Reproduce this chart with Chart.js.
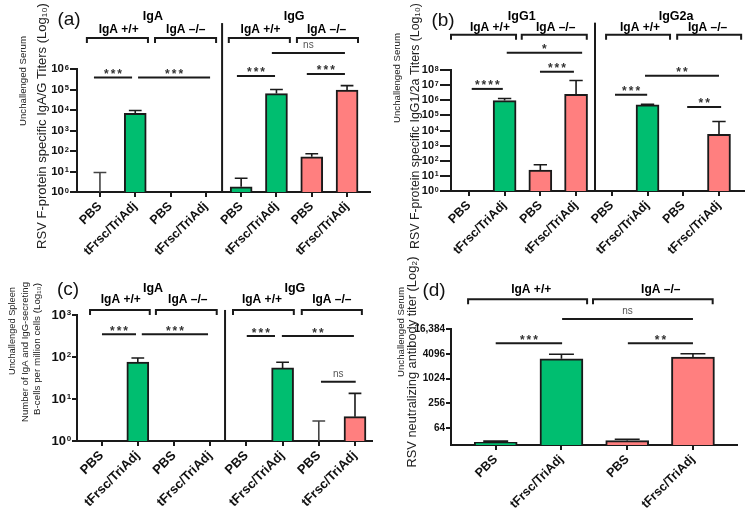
<!DOCTYPE html>
<html><head><meta charset="utf-8">
<script src="https://cdn.jsdelivr.net/npm/chart.js@4.4.1/dist/chart.umd.min.js"></script>
<style>
html,body{margin:0;padding:0;background:#fff;width:748px;height:518px;overflow:hidden}
canvas{position:absolute;display:block}
</style></head><body>
<canvas id="ca" width="374" height="255" style="left:0;top:0"></canvas>
<canvas id="cb" width="374" height="255" style="left:374px;top:0"></canvas>
<canvas id="cc" width="374" height="263" style="left:0;top:255px"></canvas>
<canvas id="cd" width="374" height="263" style="left:374px;top:255px"></canvas>
<script>
// ---------------- data ----------------
const categories = ['PBS','tFrsc/TriAdj','PBS','tFrsc/TriAdj','PBS','tFrsc/TriAdj','PBS','tFrsc/TriAdj'];
const genotypes  = ['+/+','+/+','-/-','-/-','+/+','+/+','-/-','-/-'];
// (a) serum IgA / IgG titers (mean, upper error)
const titerA    = [1, 6900, null, null, 1.8, 63000, 52, 95000];
const titerErrA = [9, 9500, null, null, 4.7, 100000, 74, 155000];
// (b) serum IgG1 / IgG2a titers
const titerB    = [null, 950000, 24, 2500000, null, 500000, null, 5600];
const titerErrB = [null, 1300000, 55, 20000000, null, 550000, null, 39000];
// (c) spleen antibody-secreting B cells per million
const cellsC    = [null, 76, null, null, null, 55, 1, 3.8];
const cellsErrC = [null, 95, null, null, null, 75, 3, 13.6];
// (d) neutralizing titers
const categoriesD = ['PBS','tFrsc/TriAdj','PBS','tFrsc/TriAdj'];
const genotypesD  = ['+/+','+/+','-/-','-/-'];
const neutD    = [29, 3100, 32, 3400];
const neutErrD = [31, 4000, 34.6, 4100];
// tick values
const ticksA = [1,10,100,1e3,1e4,1e5,1e6];
const ticksB = [1,10,100,1e3,1e4,1e5,1e6,1e7,1e8];
const ticksC = [1,10,100,1e3];
const ticksD = [64,256,1024,4096,16384];
const tickLabelsD = ['64','256','1024','4096','16,384'];

// ---------------- style ----------------
Chart.defaults.font.family = "'Liberation Sans', Arial, sans-serif";
Chart.defaults.color = '#000';
const GREEN = '#00BE70', RED = '#FF7F7F', INK = '#1a1a1a';
const FONT = "'Liberation Sans', Arial, sans-serif";
const baseLabel = v => '10';
const labelD = v => tickLabelsD[ticksD.indexOf(v)] ?? '';
const YW = 40;

function annot(P){
  return {
    id: 'annot_' + P.id,
    afterDraw(chart){
      const ctx = chart.ctx, xs = chart.scales.x, ys = chart.scales.y;
      const X = v => xs.getPixelForValue(v);
      const Y = e => ys.getPixelForValue(Math.pow(P.base, e));
      ctx.save();
      // exponents of the 10^n tick labels
      if (P.pow10){
        ctx.fillStyle = '#111'; ctx.font = 'bold ' + P.expSize + 'px ' + FONT;
        ctx.textAlign = 'left'; ctx.textBaseline = 'alphabetic';
        const x0 = ys.right - P.tickLen - P.tickPad + 0.8;
        P.yticks.forEach(v=> ctx.fillText(String(Math.round(Math.log10(v))), x0, ys.getPixelForValue(v) + P.expDy));
      }
      // error bars
      P.means.forEach((m,i)=>{
        const e = P.errs[i]; if (e == null) return;
        const x = X(i), yb = ys.getPixelForValue(m == null ? P.ymin : m), yt = ys.getPixelForValue(e);
        const hw = P.barW * 0.29;
        ctx.strokeStyle = m <= P.ymin ? '#444' : INK; ctx.lineWidth = 1.6;
        ctx.beginPath(); ctx.moveTo(x, yb); ctx.lineTo(x, yt);
        ctx.moveTo(x-hw, yt); ctx.lineTo(x+hw, yt); ctx.stroke();
      });
      ctx.strokeStyle = INK; ctx.lineWidth = 2;
      // separator
      if (P.sep){
        ctx.beginPath(); ctx.moveTo(X(P.sep.x), Y(P.sep.top)); ctx.lineTo(X(P.sep.x), ys.bottom); ctx.stroke();
      }
      // brackets
      P.brackets.forEach(b=>{
        const y = Y(P.bracketY);
        ctx.beginPath(); ctx.moveTo(X(b[0]), y+5); ctx.lineTo(X(b[0]), y); ctx.lineTo(X(b[1]), y); ctx.lineTo(X(b[1]), y+5); ctx.stroke();
      });
      // significance lines
      ctx.textAlign = 'center';
      P.sig.forEach(s=>{
        const y = Y(s.y), xm = (X(s.x1)+X(s.x2))/2;
        ctx.strokeStyle = INK; ctx.lineWidth = 2;
        ctx.beginPath(); ctx.moveTo(X(s.x1), y); ctx.lineTo(X(s.x2), y); ctx.stroke();
        ctx.textBaseline = 'alphabetic';
        if (s.t === 'ns'){
          ctx.fillStyle = '#555'; ctx.font = '10px ' + FONT;
          ctx.fillText('ns', xm, y - 5);
        } else {
          ctx.fillStyle = '#333'; ctx.font = 'bold 12px ' + FONT;
          try { ctx.letterSpacing = '2px'; } catch(e){}
          ctx.fillText(s.t, xm + 1, y + 0.5);
          try { ctx.letterSpacing = '0px'; } catch(e){}
        }
      });
      // group labels
      ctx.fillStyle = '#000'; ctx.textBaseline = 'middle';
      ctx.font = 'bold 12.5px ' + FONT;
      P.groupLabels.forEach(g=> ctx.fillText(g.t, X(g.x), Y(P.groupY)));
      ctx.font = 'bold 12px ' + FONT;
      P.subLabels.forEach(g=> ctx.fillText(g.t, X(g.x), Y(P.subY)));
      // panel letter
      ctx.font = '19px ' + FONT; ctx.fillStyle = '#111';
      ctx.fillText(P.letter.t, P.letter.x, P.letter.y);
      // axis title lines, each fitted to its length in the reference
      ctx.fillStyle = '#222';
      P.titles.forEach(t=>{
        ctx.font = '10px ' + FONT;
        const size = 10 * t.len / ctx.measureText(t.t).width;
        ctx.font = size.toFixed(2) + 'px ' + FONT;
        ctx.save(); ctx.translate(t.x, t.y); ctx.rotate(-Math.PI/2);
        ctx.fillText(t.t, 0, 0); ctx.restore();
      });
      ctx.restore();
    }
  };
}

function makeChart(id, P){
  const canvas = document.getElementById(id);
  const W = canvas.width, H = canvas.height;
  const data = P.means.map((v,i)=>({x:i, y:v}));
  new Chart(canvas, {
    type: 'bar',
    data: { datasets: [{
      data,
      backgroundColor: P.groups.map(g => g === '+/+' ? GREEN : RED),
      borderColor: INK, borderWidth: 2, borderSkipped: 'start',
      barThickness: P.barW
    }]},
    options: {
      responsive: false, animation: false,
      layout: { padding: { left: P.area.left - YW, top: P.area.top, right: W - P.area.right, bottom: 0 } },
      plugins: { legend: {display:false}, tooltip: {enabled:false} },
      scales: {
        x: {
          type: 'linear', min: P.xmin, max: P.xmax, offset: false, bounds: 'data',
          afterBuildTicks: ax => { ax.ticks = P.cats.map((c,i)=>({value:i})); },
          afterFit: ax => { ax.height = H - P.area.bottom; },
          grid: { offset: false, drawOnChartArea: false, drawTicks: true, tickLength: 5, color: INK, lineWidth: 2 },
          border: { display: true, color: INK, width: 2 },
          ticks: { autoSkip: false, minRotation: 45, maxRotation: 45, padding: 2, color: '#111',
                   font: { size: P.xFont, weight: 'bold' }, callback: v => P.cats[v] ?? '' }
        },
        y: {
          type: 'logarithmic', min: P.ymin, max: P.ymax,
          afterBuildTicks: ax => { ax.ticks = P.yticks.map(v=>({value:v})); },
          afterFit: ax => { ax.width = YW; },
          grid: { drawOnChartArea: false, drawTicks: true, tickLength: P.tickLen, color: INK, lineWidth: 2 },
          border: { display: true, color: INK, width: 2 },
          ticks: { autoSkip: false, padding: P.tickPad, color: '#111',
                   font: { size: P.yFont, weight: 'bold' }, callback: P.yfmt }
        }
      }
    },
    plugins: [annot(P)]
  });
}

makeChart('ca', {
  id:'a', cats: categories, groups: genotypes, means: titerA, errs: titerErrA,
  area:{left:77,right:370,top:69,bottom:192}, xmin:-0.65, xmax:7.65, ymin:1, ymax:1e6, base:10, barW:22,
  yticks: ticksA, yfmt: baseLabel, pow10:true, yFont:11.5, expSize:7.5, expDy:0.5, tickLen:7, tickPad:6, xFont:12.5,
  groupY: 8.54, groupLabels:[{t:'IgA',x:1.5},{t:'IgG',x:5.5}],
  subY: 7.9, subLabels:[{t:'IgA +/+',x:0.53},{t:'IgA –/–',x:2.43},{t:'IgA +/+',x:4.55},{t:'IgA –/–',x:6.42}],
  bracketY: 7.51, brackets:[[-0.37,1.36],[1.56,3.29],[3.65,5.38],[5.58,7.31]],
  sep:{x:3.46, top:8.24},
  sig:[{x1:-0.17,x2:0.91,y:5.58,t:'***'},{x1:1.08,x2:3.12,y:5.58,t:'***'},{x1:3.88,x2:4.96,y:5.66,t:'***'},
       {x1:4.87,x2:6.94,y:6.78,t:'ns'},{x1:5.86,x2:6.94,y:5.76,t:'***'}],
  letter:{t:'(a)',x:69,y:20},
  titles:[{t:'Unchallenged Serum',x:23,y:81,len:90},{t:'RSV F-protein specific IgA/G Titers (Log₁₀)',x:42,y:126,len:246}]
});

makeChart('cb', {
  id:'b', cats: categories, groups: genotypes, means: titerB, errs: titerErrB,
  area:{left:77,right:370,top:70,bottom:191}, xmin:-0.5, xmax:7.7, ymin:1, ymax:1e8, base:10, barW:23,
  yticks: ticksB, yfmt: baseLabel, pow10:true, yFont:11, expSize:7, expDy:0.5, tickLen:11, tickPad:6, xFont:12.5,
  groupY: 11.52, groupLabels:[{t:'IgG1',x:1.48},{t:'IgG2a',x:5.8}],
  subY: 10.79, subLabels:[{t:'IgA +/+',x:0.59},{t:'IgA –/–',x:2.43},{t:'IgA +/+',x:4.79},{t:'IgA –/–',x:6.68}],
  bracketY: 10.33, brackets:[[-0.5,1.32],[1.48,3.3],[3.84,5.63],[5.83,7.62]],
  sep:{x:3.53, top:11.13},
  sig:[{x1:1.06,x2:3.17,y:9.14,t:'*'},{x1:1.99,x2:2.94,y:7.88,t:'***'},{x1:0.08,x2:0.95,y:6.75,t:'****'},
       {x1:4.93,x2:7.0,y:7.62,t:'**'},{x1:4.09,x2:4.99,y:6.36,t:'***'},{x1:6.11,x2:7.06,y:5.56,t:'**'}],
  letter:{t:'(b)',x:69,y:21},
  titles:[{t:'Unchallenged Serum',x:23,y:78,len:90},{t:'RSV F-protein specific IgG1/2a Titers (Log₁₀)',x:42,y:126,len:246}]
});

makeChart('cc', {
  id:'c', cats: categories, groups: genotypes, means: cellsC, errs: cellsErrC,
  area:{left:77,right:372,top:60,bottom:186}, xmin:-0.68, xmax:7.47, ymin:1, ymax:1e3, base:10, barW:22,
  yticks: ticksC, yfmt: baseLabel, pow10:true, yFont:13, expSize:8, expDy:0, tickLen:5, tickPad:6, xFont:13,
  groupY: 3.64, groupLabels:[{t:'IgA',x:1.42},{t:'IgG',x:5.34}],
  subY: 3.36, subLabels:[{t:'IgA +/+',x:0.53},{t:'IgA –/–',x:2.38},{t:'IgA +/+',x:4.43},{t:'IgA –/–',x:6.36}],
  bracketY: 3.12, brackets:[[-0.32,1.33],[1.5,3.18],[3.63,5.31],[5.53,7.19]],
  sep:{x:3.41, top:3.12},
  sig:[{x1:0.01,x2:0.95,y:2.54,t:'***'},{x1:1.11,x2:2.94,y:2.54,t:'***'},{x1:4.01,x2:4.79,y:2.5,t:'***'},
       {x1:4.98,x2:6.97,y:2.5,t:'**'},{x1:6.06,x2:7.02,y:1.41,t:'ns'}],
  letter:{t:'(c)',x:68,y:34.5},
  titles:[{t:'Unchallenged Spleen',x:12,y:76,len:88},{t:'Number of IgA and IgG-secreting',x:25,y:97,len:140},
          {t:'B-cells per million cells (Log₁₀)',x:37,y:94,len:132}]
});

makeChart('cd', {
  id:'d', cats: categoriesD, groups: genotypesD, means: neutD, errs: neutErrD,
  area:{left:77,right:363,top:74,bottom:190}, xmin:-0.68, xmax:3.67, ymin:25, ymax:16384, base:2, barW:43,
  yticks: ticksD, yfmt: labelD, pow10:false, yFont:10, tickLen:5, tickPad:1, xFont:12.5,
  groupY: 17.15, groupLabels:[],
  subY: 17.15, subLabels:[{t:'IgA +/+',x:0.54},{t:'IgA –/–',x:2.51}],
  bracketY: 16.4, brackets:[[-0.42,1.39],[1.48,3.3]],
  sep:null,
  sig:[{x1:1.01,x2:3.0,y:14.8,t:'ns'},{x1:0.0,x2:1.01,y:12.85,t:'***'},{x1:2.01,x2:3.0,y:12.85,t:'**'}],
  letter:{t:'(d)',x:60,y:35.5},
  titles:[{t:'Unchallenged Serum',x:27,y:77,len:90},{t:'RSV neutralizing antibody titer (Log₂)',x:38.5,y:107,len:211}]
});
</script>
</body></html>
